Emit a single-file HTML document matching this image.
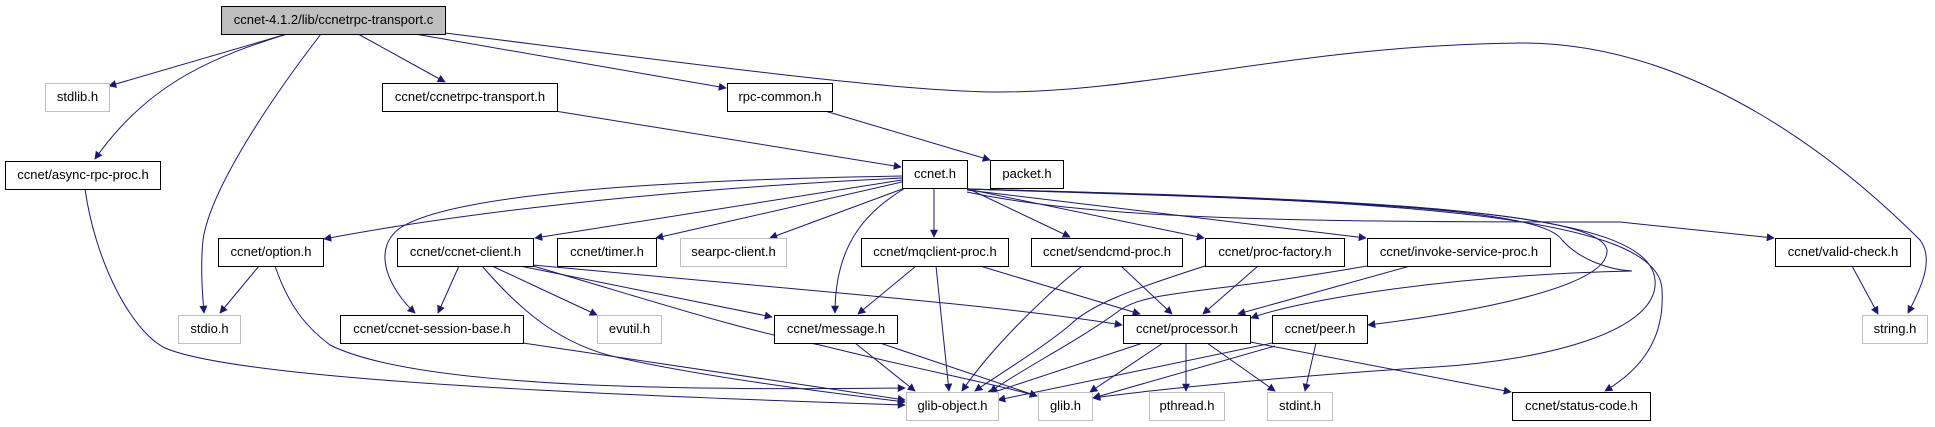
<!DOCTYPE html>
<html><head><meta charset="utf-8"><style>
html,body{margin:0;padding:0;background:#fff;}
svg{display:block;}
text{font-family:"Liberation Sans",sans-serif;font-size:13px;fill:#000;text-anchor:middle;}
.e{fill:none;stroke:#191970;stroke-width:1;}
.n{fill:#fff;stroke:#000;stroke-width:1;}
.g{fill:#fff;stroke:#bfbfbf;stroke-width:1;}
</style></head><body>
<svg width="1935" height="427" viewBox="0 0 1935 427" xmlns="http://www.w3.org/2000/svg">
<defs><marker id="a" viewBox="0 0 10 10" refX="9" refY="5" markerWidth="11" markerHeight="8" markerUnits="userSpaceOnUse" orient="auto"><path d="M0,0 L10,5 L0,10 z" fill="#191970"/></marker></defs>
<g marker-end="url(#a)">
<path class="e" d="M287,34 L109,86"/>
<path class="e" d="M287,34 C220,55 150,80 95,159"/>
<path class="e" d="M321,34 C270,100 210,190 203,240 C200,270 203,300 204,313"/>
<path class="e" d="M358,34 L445,82"/>
<path class="e" d="M415,34 L726,88"/>
<path class="e" d="M445,33 C700,65 900,92 1000,92 C1150,92 1300,45 1520,43 C1700,42 1850,170 1920,240 C1935,260 1920,290 1908,313"/>
<path class="e" d="M555,111 L901,167"/>
<path class="e" d="M825,111 L990,160"/>
<path class="e" d="M85,189 C95,260 130,330 165,348 C240,380 600,395 905,405"/>
<path class="e" d="M259,266 L220,313"/>
<path class="e" d="M275,266 C290,310 310,330 330,345 C420,390 700,390 905,388"/>
<path class="e" d="M459,266 L438,313"/>
<path class="e" d="M492,266 L597,315"/>
<path class="e" d="M482,266 C520,310 560,345 620,358 C720,380 850,395 905,402"/>
<path class="e" d="M520,266 L772,317"/>
<path class="e" d="M533,266 C650,300 740,330 820,345 C920,370 1000,385 1037,396"/>
<path class="e" d="M533,265 C800,290 1000,305 1122,325"/>
<path class="e" d="M523,343 L905,400"/>
<path class="e" d="M902,178 C650,190 450,215 324,239"/>
<path class="e" d="M902,176 C650,180 450,195 400,228 C370,250 390,290 415,313"/>
<path class="e" d="M902,180 L535,238"/>
<path class="e" d="M902,182 L656,238"/>
<path class="e" d="M905,188 L770,238"/>
<path class="e" d="M905,188 C870,210 835,240 835,313"/>
<path class="e" d="M934,188 L934,237"/>
<path class="e" d="M967,188 L1070,237"/>
<path class="e" d="M967,189 L1204,238"/>
<path class="e" d="M967,190 L1366,238"/>
<path class="e" d="M967,192 C1100,220 1300,222 1620,222 L1774,238"/>
<path class="e" d="M967,189 C1300,200 1540,205 1562,240 C1580,260 1610,270 1632,271 C1450,275 1300,300 1251,318"/>
<path class="e" d="M967,189 C1350,200 1600,210 1607,250 C1610,290 1450,315 1368,325"/>
<path class="e" d="M967,189 C1400,200 1650,210 1655,280 C1660,330 1550,360 1435,367 C1300,375 1150,390 1093,398"/>
<path class="e" d="M967,189 C1400,200 1660,215 1662,290 C1665,340 1640,370 1605,391"/>
<path class="e" d="M916,266 L858,314"/>
<path class="e" d="M936,266 L949,391"/>
<path class="e" d="M980,266 L1140,314"/>
<path class="e" d="M1082,266 C1040,300 990,350 962,391"/>
<path class="e" d="M1121,266 L1172,314"/>
<path class="e" d="M1205,266 C1130,290 1090,305 1070,325 C1040,350 990,380 975,391"/>
<path class="e" d="M1258,266 L1203,314"/>
<path class="e" d="M1367,266 C1200,295 1150,290 1120,310 C1080,340 1020,370 990,392"/>
<path class="e" d="M1410,266 L1238,314"/>
<path class="e" d="M1143,343 L985,395"/>
<path class="e" d="M1163,343 L1090,392"/>
<path class="e" d="M1186,343 L1186,391"/>
<path class="e" d="M1207,343 L1275,391"/>
<path class="e" d="M1250,342 L1511,392"/>
<path class="e" d="M1272,343 L998,400"/>
<path class="e" d="M1275,346 L1093,398"/>
<path class="e" d="M1316,343 L1305,391"/>
<path class="e" d="M855,343 L915,391"/>
<path class="e" d="M880,343 L1037,396"/>
<path class="e" d="M1852,266 L1878,314"/>
</g>
<rect x="221.5" y="6.5" width="224" height="28" fill="#bfbfbf" stroke="#000"/><text x="333.5" y="24">ccnet-4.1.2/lib/ccnetrpc-transport.c</text>
<rect class="g" x="45.5" y="83.5" width="64" height="28"/><text x="77.5" y="101">stdlib.h</text>
<rect class="n" x="382.5" y="83.5" width="175" height="28"/><text x="470" y="101">ccnet/ccnetrpc-transport.h</text>
<rect class="n" x="727.5" y="83.5" width="105" height="28"/><text x="780" y="101">rpc-common.h</text>
<rect class="n" x="5.5" y="161.5" width="155" height="28"/><text x="83" y="179">ccnet/async-rpc-proc.h</text>
<rect class="n" x="902.5" y="160.5" width="65" height="28"/><text x="935" y="178">ccnet.h</text>
<rect class="n" x="990.5" y="160.5" width="73" height="28"/><text x="1027" y="178">packet.h</text>
<rect class="n" x="218.5" y="238.5" width="105" height="28"/><text x="271" y="256">ccnet/option.h</text>
<rect class="n" x="397.5" y="238.5" width="136" height="28"/><text x="465.5" y="256">ccnet/ccnet-client.h</text>
<rect class="n" x="557.5" y="238.5" width="99" height="28"/><text x="607" y="256">ccnet/timer.h</text>
<rect class="g" x="680.5" y="238.5" width="106" height="28"/><text x="733.5" y="256">searpc-client.h</text>
<rect class="n" x="861.5" y="238.5" width="147" height="28"/><text x="935" y="256">ccnet/mqclient-proc.h</text>
<rect class="n" x="1031.5" y="238.5" width="151" height="28"/><text x="1107" y="256">ccnet/sendcmd-proc.h</text>
<rect class="n" x="1205.5" y="238.5" width="139" height="28"/><text x="1275" y="256">ccnet/proc-factory.h</text>
<rect class="n" x="1367.5" y="238.5" width="183" height="28"/><text x="1459" y="256">ccnet/invoke-service-proc.h</text>
<rect class="n" x="1775.5" y="238.5" width="135" height="28"/><text x="1843" y="256">ccnet/valid-check.h</text>
<rect class="g" x="178.5" y="315.5" width="62" height="28"/><text x="209.5" y="333">stdio.h</text>
<rect class="n" x="340.5" y="315.5" width="183" height="28"/><text x="432" y="333">ccnet/ccnet-session-base.h</text>
<rect class="g" x="597.5" y="315.5" width="64" height="28"/><text x="629.5" y="333">evutil.h</text>
<rect class="n" x="774.5" y="315.5" width="123" height="28"/><text x="836" y="333">ccnet/message.h</text>
<rect class="n" x="1123.5" y="315.5" width="127" height="28"/><text x="1187" y="333">ccnet/processor.h</text>
<rect class="n" x="1272.5" y="315.5" width="95" height="28"/><text x="1320" y="333">ccnet/peer.h</text>
<rect class="g" x="1862.5" y="315.5" width="65" height="28"/><text x="1895" y="333">string.h</text>
<rect class="g" x="906.5" y="392.5" width="92" height="28"/><text x="952.5" y="410">glib-object.h</text>
<rect class="g" x="1038.5" y="392.5" width="54" height="28"/><text x="1065.5" y="410">glib.h</text>
<rect class="g" x="1149.5" y="392.5" width="75" height="28"/><text x="1187" y="410">pthread.h</text>
<rect class="g" x="1267.5" y="392.5" width="65" height="28"/><text x="1300" y="410">stdint.h</text>
<rect class="n" x="1512.5" y="392.5" width="138" height="28"/><text x="1581.5" y="410">ccnet/status-code.h</text>
</svg>
</body></html>
